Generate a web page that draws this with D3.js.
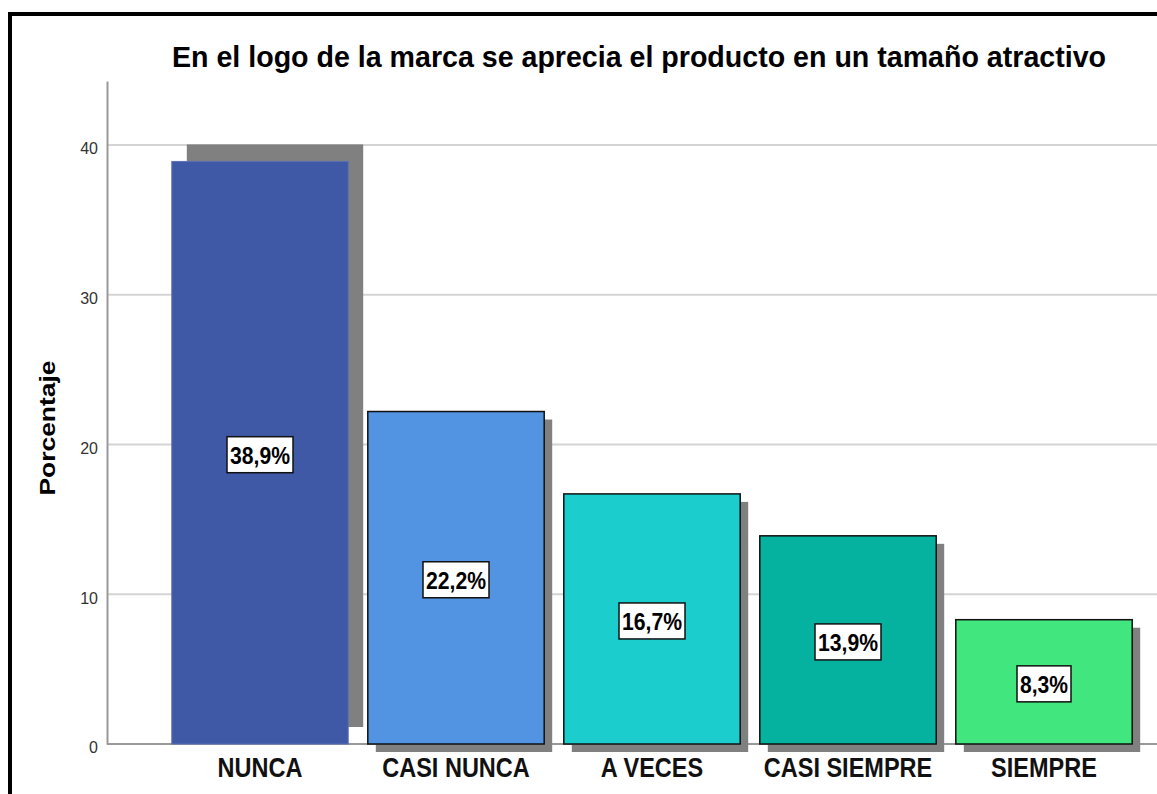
<!DOCTYPE html>
<html>
<head>
<meta charset="utf-8">
<script src="https://cdn.jsdelivr.net/npm/d3@7"></script>
<style>
  body { margin: 0; background: #fff; }
  svg { display: block; font-family: "Liberation Sans", Arial, sans-serif; }
</style>
</head>
<body>
<script>
// data
var categories = ['NUNCA', 'CASI NUNCA', 'A VECES', 'CASI SIEMPRE', 'SIEMPRE'];
var percents = [38.9, 22.2, 16.7, 13.9, 8.3];
var valueLabels = ['38,9%', '22,2%', '16,7%', '13,9%', '8,3%'];
var yTicks = [0, 10, 20, 30, 40];
var barColors = ['#3f59a7', '#5294e2', '#1ccdcd', '#05b2a0', '#42e67e'];
var chartTitle = 'En el logo de la marca se aprecia el producto en un tamaño atractivo';
var yTitle = 'Porcentaje';

var draw = function() {
  let width = 1157, height = 794;
  let axisX = 107, baseY = 744;

  let svg = d3.select('body').append('svg')
    .attr('width', width)
    .attr('height', height);

  // frame (only top and left edges are visible)
  svg.append('path')
    .attr('d', 'M10,' + height + ' V14 H' + width)
    .attr('fill', 'none')
    .attr('stroke', '#000')
    .attr('stroke-width', 4);

  let x = d3.scaleBand()
    .domain(categories)
    .range([162, 1142])
    .paddingInner(0.1)
    .paddingOuter(0.05);

  let y = d3.scaleLinear()
    .domain([0, 44.27])
    .range([baseY, 81]);

  // gridlines
  svg.append('g').selectAll('line')
    .data(yTicks.filter(d => d > 0))
    .enter().append('line')
    .attr('x1', axisX).attr('x2', width)
    .attr('y1', d => y(d)).attr('y2', d => y(d))
    .attr('stroke', '#d4d4d4')
    .attr('stroke-width', 2);

  // y axis
  let yAxis = svg.append('g')
    .attr('transform', 'translate(' + axisX + ',0)')
    .call(d3.axisLeft(y).tickValues(yTicks).tickSize(0).tickPadding(9));
  yAxis.select('.domain').attr('stroke', '#999').attr('stroke-width', 2);
  yAxis.selectAll('text')
    .attr('font-size', 16)
    .attr('fill', '#333')
    .attr('dy', '0.55em')
    .style('font-family', '"Liberation Sans", Arial, sans-serif');

  // bottom axis line
  svg.append('line')
    .attr('x1', axisX).attr('x2', width)
    .attr('y1', baseY).attr('y2', baseY)
    .attr('stroke', '#999')
    .attr('stroke-width', 2);

  // shadows (first one is offset differently in the original)
  svg.append('g').selectAll('rect')
    .data(percents)
    .enter().append('rect')
    .attr('x', (d, i) => x(categories[i]) + (i === 0 ? 15 : 8))
    .attr('y', (d, i) => y(d) + (i === 0 ? -17 : 8))
    .attr('width', x.bandwidth())
    .attr('height', d => baseY - y(d))
    .attr('fill', '#808080');

  // bars
  svg.append('g').selectAll('rect')
    .data(percents)
    .enter().append('rect')
    .attr('x', (d, i) => x(categories[i]))
    .attr('y', d => y(d))
    .attr('width', x.bandwidth())
    .attr('height', d => baseY - y(d))
    .attr('fill', (d, i) => barColors[i])
    .attr('stroke', (d, i) => i === 0 ? '#5a70b5' : '#111')
    .attr('stroke-width', (d, i) => i === 0 ? 1 : 1.5);

  // value labels in boxes
  let labels = svg.append('g').selectAll('g')
    .data(percents)
    .enter().append('g')
    .attr('transform', (d, i) => 'translate(' + (x(categories[i]) + x.bandwidth() / 2) + ',' + ((y(d) + baseY) / 2 + 2) + ')');

  labels.append('rect')
    .attr('x', (d, i) => -(valueLabels[i].length * 12 + 6) / 2)
    .attr('y', -18)
    .attr('width', (d, i) => valueLabels[i].length * 12 + 6)
    .attr('height', 36)
    .attr('fill', '#fff')
    .attr('stroke', '#111')
    .attr('stroke-width', 1.5);

  labels.append('text')
    .attr('text-anchor', 'middle')
    .attr('y', 9)
    .attr('font-size', 24)
    .attr('font-weight', 'bold')
    .attr('textLength', (d, i) => valueLabels[i].length * 12)
    .attr('lengthAdjust', 'spacingAndGlyphs')
    .text((d, i) => valueLabels[i]);

  // category labels (slightly stretched vertically like the original)
  svg.append('g').selectAll('text')
    .data(categories)
    .enter().append('text')
    .attr('transform', d => 'translate(' + (x(d) + x.bandwidth() / 2) + ',777) scale(0.98,1.15)')
    .attr('text-anchor', 'middle')
    .attr('font-size', 24)
    .attr('font-weight', 'bold')
    .attr('fill', '#111')
    .text(d => d);

  // y title
  svg.append('text')
    .attr('transform', 'translate(55,428) rotate(-90)')
    .attr('text-anchor', 'middle')
    .attr('font-size', 22)
    .attr('font-weight', 'bold')
    .attr('textLength', 135)
    .attr('lengthAdjust', 'spacingAndGlyphs')
    .text(yTitle);

  // chart title
  svg.append('text')
    .attr('x', 639)
    .attr('y', 67)
    .attr('text-anchor', 'middle')
    .attr('font-size', 30)
    .attr('font-weight', 'bold')
    .attr('textLength', 934)
    .attr('lengthAdjust', 'spacingAndGlyphs')
    .text(chartTitle);
}

draw();
</script>
</body>
</html>
